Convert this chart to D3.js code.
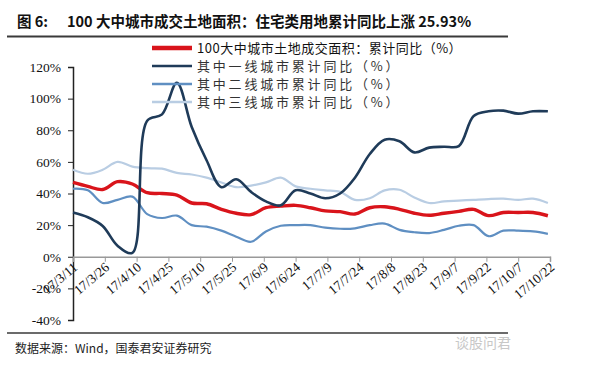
<!DOCTYPE html>
<html><head><meta charset="utf-8">
<script src="https://cdn.jsdelivr.net/npm/d3@7/dist/d3.min.js"></script>
<style>body{margin:0;background:#fff}svg{display:block}</style>
</head><body>
<svg id="c" width="600" height="367"></svg>
<script>
const startDate = "2017-03-11";
const weeks = d3.range(33);
const totalArea = [47,44.5,42.5,47.5,46,40.5,40,39,34,33.5,30,27.5,26.6,31,32,32.5,31,29,28.5,27,31,31.6,30,27.5,26.2,27.5,28.7,30,26,28,28,28,25.93];
const tier1 = [28,25,19.5,7,2.5,86,90,110,82,61,44,49,41,35,32.5,42,40,37,40,50,65,74,73,66,69,69.6,70,89,92,92.4,90.5,92,92];
const tier2 = [43,42,34,36,38,27,24.5,26,20,19,16.5,12.7,9.5,16,19.6,20,20,18.4,17.7,18,20,21,17,15.5,15,17,19.6,20,13,16.5,16.5,16,14.5];
const tier3 = [55,52.5,55,60,57,56,55.7,53,52,50,47,44,45,47,50,44.5,43,42,41,36,37,42,42.4,37.5,34,35,35.5,36,36.5,36.7,36,36.7,34];
const seriesNames = ["100大中城市土地成交面积：累计同比（%）","其中一线城市累计同比（%）","其中二线城市累计同比（%）","其中三线城市累计同比（%）"];
const xTickLabels = ["17/3/11","17/3/26","17/4/10","17/4/25","17/5/10","17/5/25","17/6/9","17/6/24","17/7/9","17/7/24","17/8/8","17/8/23","17/9/7","17/9/22","17/10/7","17/10/22"];
const yTicks = [-40,-20,0,20,40,60,80,100,120];
const titleLead = "图 6:";
const titleText = "100 大中城市成交土地面积：住宅类用地累计同比上涨 25.93%";
const source = "数据来源：Wind，国泰君安证券研究";

const svg = d3.select("#c");
const parse = s => { const [y,m,d] = s.split("/").map(Number); return new Date(2000+y, m-1, d); };
const d0 = new Date(2017,2,11);
const dates = weeks.map(i => d3.timeDay.offset(d0, 7*i));
const x = d3.scaleTime().domain([d0, parse("17/10/22")]).range([73, 550]);
const y = d3.scaleLinear().domain([-40,120]).range([320, 67]);

// title
svg.append("text").attr("x",17).attr("y",27).attr("font-family","'Noto Sans CJK SC'")
  .attr("font-weight","bold").attr("font-size",14.5).attr("fill","#111").text(titleLead);
svg.append("text").attr("x",67).attr("y",27).attr("font-family","'Noto Sans CJK SC'")
  .attr("font-weight","bold").attr("font-size",14.5).attr("fill","#111").style("white-space","pre").text(titleText);
svg.append("line").attr("x1",7).attr("x2",508).attr("y1",36.5).attr("y2",36.5).attr("stroke","#3a3a3a").attr("stroke-width",2);

// y axis
const ya = svg.append("g").attr("transform","translate(73,0)")
  .call(d3.axisLeft(y).tickValues(yTicks).tickSize(5).tickFormat(d => d + "%"));
ya.select(".domain").attr("stroke","#222").attr("stroke-width",1.5);
ya.selectAll(".tick line").attr("stroke","#222");
ya.selectAll("text").attr("font-family","'Liberation Serif'").attr("font-size",13.5).attr("fill","#111").attr("x",-12);

// x axis at 0
const xa = svg.append("g").attr("transform",`translate(0,${y(0)})`)
  .call(d3.axisBottom(x).tickValues(xTickLabels.map(parse)).tickSize(5).tickFormat((d,i)=>xTickLabels[i]));
xa.select(".domain").attr("stroke","#999").attr("stroke-width",1.5);
xa.selectAll(".tick line").attr("stroke","#999");
xa.selectAll("text").attr("font-family","'Liberation Serif'").attr("font-size",13.5).attr("fill","#111")
  .attr("text-anchor","end").attr("dy",0).attr("y",0)
  .attr("transform","translate(5,12) rotate(-40)");

// lines
const line = vals => d3.line().x((d,i)=>x(dates[i])).y(d=>y(d)).curve(d3.curveCatmullRom.alpha(0.5))(vals);
const styles = [
  {data: tier3, color:"#b9cde3", w:2.2},
  {data: tier2, color:"#5f8fc2", w:2.2},
  {data: totalArea, color:"#d9141b", w:3.4},
  {data: tier1, color:"#1f3b59", w:2.6},
];
styles.forEach(s => svg.append("path").attr("d", line(s.data)).attr("fill","none")
  .attr("stroke", s.color).attr("stroke-width", s.w).attr("stroke-linejoin","round"));

// legend
const legend = [
  {name: seriesNames[0], color:"#d9141b", w:4.5, y:48, fill:"#111", ls:0.5},
  {name: seriesNames[1], color:"#1f3b59", w:2.6, y:66, fill:"#333", ls:2.8},
  {name: seriesNames[2], color:"#5f8fc2", w:2.6, y:84, fill:"#333", ls:2.8},
  {name: seriesNames[3], color:"#b9cde3", w:2.6, y:102, fill:"#333", ls:2.8},
];
legend.forEach(l => {
  svg.append("line").attr("x1",152).attr("x2",192).attr("y1",l.y).attr("y2",l.y).attr("stroke",l.color).attr("stroke-width",l.w);
  svg.append("text").attr("x",197).attr("y",l.y+5).attr("font-family","'Noto Sans CJK SC'").attr("font-size",13)
    .attr("letter-spacing",l.ls).attr("fill",l.fill).text(l.name);
});

// footer
svg.append("line").attr("x1",7).attr("x2",508).attr("y1",333).attr("y2",333).attr("stroke","#3a3a3a").attr("stroke-width",1.5);
svg.append("text").attr("x",15).attr("y",353).attr("font-family","'Noto Sans CJK SC'").attr("font-size",12).attr("fill","#222").text(source);
svg.append("text").attr("x",455).attr("y",348).attr("font-family","'Noto Sans CJK SC'").attr("font-size",14).attr("fill","#c8c8c8").text("谈股问君");
</script>
</body></html>
